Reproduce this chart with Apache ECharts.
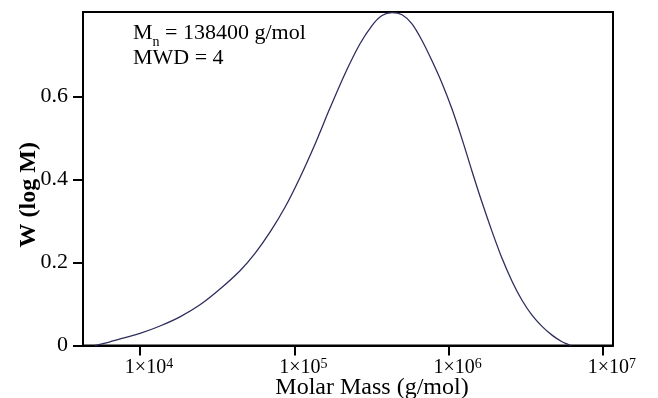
<!DOCTYPE html>
<html>
<head>
<meta charset="utf-8">
<script src="https://cdn.jsdelivr.net/npm/echarts@6/dist/echarts.min.js"></script>
<style>html,body{margin:0;padding:0;background:#fff;}#c{width:658px;height:398px;}</style>
</head>
<body>
<div id="c"></div>
<script>
// Molar mass (g/mol) and weight fraction W(log M)
const molarMass = [5109, 6391, 7993, 10000, 13480, 18160, 24480, 33000, 44480, 55640, 69580, 87030, 108900, 136200, 170300, 213100, 266600, 318900, 370200, 429800, 498900, 579100, 672300, 780400, 906200, 1052000, 1221000, 1418000, 1646000, 1911000, 2219000, 2576000, 2990000, 3471000, 4030000, 4678000, 5431000, 6214000];
const wLogM = [0, 0.009, 0.019, 0.029, 0.047, 0.069, 0.098, 0.136, 0.180, 0.222, 0.273, 0.333, 0.405, 0.485, 0.572, 0.655, 0.727, 0.771, 0.795, 0.802, 0.797, 0.775, 0.735, 0.686, 0.632, 0.570, 0.498, 0.420, 0.345, 0.275, 0.210, 0.155, 0.109, 0.073, 0.046, 0.025, 0.009, 0];
const xTicks = [1e4, 1e5, 1e6, 1e7];
const yTicks = [0, 0.2, 0.4, 0.6];
const annotationLines = ['M{sub|n} = 138400 g/mol', 'MWD = 4'];

const FONT = '"Liberation Serif", "Times New Roman", serif';
const chart = echarts.init(document.getElementById('c'), null, {renderer: 'canvas'});
chart.setOption({
  animation: false,
  backgroundColor: '#fff',
  grid: {left: 83, right: 45, top: 12, bottom: 52.5, outerBoundsMode: 'none', containLabel: false,
    show: true, borderColor: '#000', borderWidth: 2, backgroundColor: 'transparent'},
  xAxis: {
    type: 'log', logBase: 10, min: 4272, max: 11625000,
    splitLine: {show: false},
    axisLine: {show: true, lineStyle: {color: '#000', width: 2}},
    axisTick: {show: true, customValues: xTicks, length: 10, inside: false, lineStyle: {color: '#000', width: 2}},
    minorTick: {show: false},
    axisLabel: {
      customValues: xTicks, margin: 12, color: '#000', fontFamily: FONT, fontSize: 20, lineHeight: 20,
      padding: [0, 0, 0, 18],
      formatter: v => '1×10{s|' + Math.round(Math.log10(v)) + '}',
      rich: {s: {fontSize: 14, fontFamily: FONT, color: '#000', verticalAlign: 'top', lineHeight: 14}}
    },
    name: 'Molar Mass (g/mol)', nameLocation: 'middle', nameGap: 30, nameMoveOverlap: false,
    nameTextStyle: {fontFamily: FONT, fontSize: 24, color: '#000', padding: [0, 0, 0, 48]}
  },
  yAxis: {
    type: 'value', min: 0, max: 0.8036,
    splitLine: {show: false},
    axisLine: {show: true, lineStyle: {color: '#000', width: 2}},
    axisTick: {show: true, customValues: yTicks, length: 10, lineStyle: {color: '#000', width: 2}},
    axisLabel: {
      customValues: yTicks, margin: 15, color: '#000', fontFamily: FONT, fontSize: 22,
      formatter: v => v === 0 ? '0' : v.toFixed(1)
    },
    name: 'W (log M)', nameLocation: 'middle', nameGap: 42, nameMoveOverlap: false,
    nameTextStyle: {fontFamily: FONT, fontSize: 24, fontWeight: 'bold', color: '#000', padding: [0, 32, 0, 0]}
  },
  graphic: [
    {type: 'text', left: 133, top: 22, style: {text: annotationLines[0], font: '22px ' + FONT, fill: '#000',
      rich: {sub: {fontSize: 14, fontFamily: FONT, fill: '#000', verticalAlign: 'bottom', padding: [18, 0, 0, 0]}}}},
    {type: 'text', left: 133, top: 47, style: {text: annotationLines[1], font: '22px ' + FONT, fill: '#000'}}
  ],
  series: [{
    type: 'line', data: molarMass.map((m, i) => [m, wLogM[i]]),
    smooth: 0.3, showSymbol: false, clip: true,
    lineStyle: {color: '#2e2e5e', width: 1.3}
  }]
});
</script>
</body>
</html>
